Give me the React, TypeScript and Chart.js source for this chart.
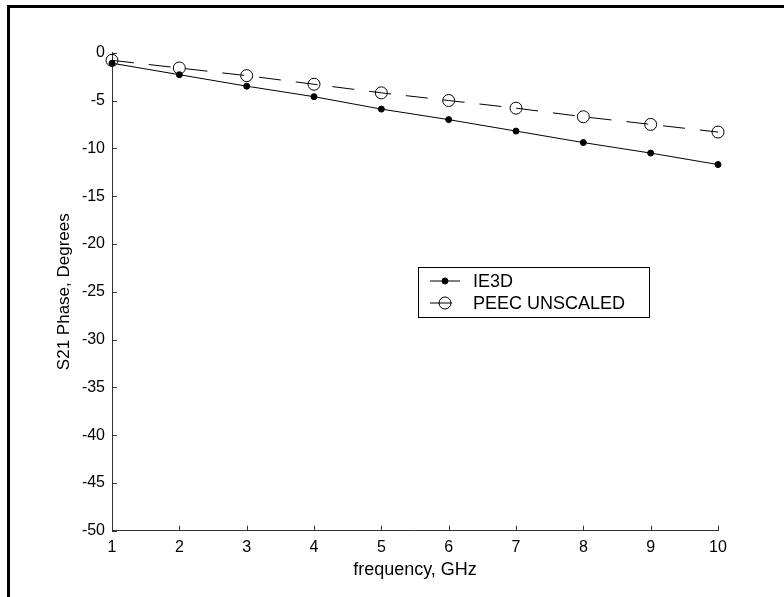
import React, { useEffect, useRef } from "react";
import { Chart, registerables } from "chart.js";

Chart.register(...registerables);

// Frequency sweep (GHz) and S21 phase (degrees) for the two solvers
const frequencies = [1, 2, 3, 4, 5, 6, 7, 8, 9, 10];
const ie3dPhase = [-1.1, -2.3, -3.5, -4.6, -5.9, -7.0, -8.2, -9.4, -10.5, -11.7];
const peecPhase = [-0.8, -1.6, -2.4, -3.3, -4.2, -5.0, -5.8, -6.7, -7.5, -8.3];
const seriesLabels = ["IE3D", "PEEC UNSCALED"];

const FONT = "'Liberation Sans', Arial, Helvetica, sans-serif";
const AXIS_COLOR = "#333";

// Inward tick marks on both axes, the framed legend and the page border
const decorations = {
  id: "decorations",
  beforeDraw(chart: any) {
    const ctx = chart.ctx;
    ctx.save();
    ctx.fillStyle = "#000";
    ctx.fillRect(7, 5, chart.width - 7, 3);
    ctx.fillRect(7, 5, 3, chart.height - 5);
    ctx.restore();
  },
  afterDatasetsDraw(chart: any) {
    const ctx = chart.ctx;
    const { left, bottom } = chart.chartArea;
    const xs = chart.scales.x;
    const ys = chart.scales.y;
    ctx.save();
    ctx.strokeStyle = AXIS_COLOR;
    ctx.lineWidth = 1;
    ctx.beginPath();
    xs.ticks.forEach((t: any) => {
      const px = Math.round(xs.getPixelForValue(t.value)) + 0.5;
      ctx.moveTo(px, bottom);
      ctx.lineTo(px, bottom - 5);
    });
    ys.ticks.forEach((t: any) => {
      const py = Math.round(ys.getPixelForValue(t.value)) + 0.5;
      ctx.moveTo(left, py);
      ctx.lineTo(left + 5, py);
    });
    ctx.stroke();

    // legend box
    const bx = 418.5, by = 267.5, bw = 231, bh = 50;
    ctx.fillStyle = "#fff";
    ctx.fillRect(bx, by, bw, bh);
    ctx.strokeStyle = "#000";
    ctx.lineWidth = 1;
    ctx.strokeRect(bx, by, bw, bh);

    const rows = [281, 303];
    chart.data.datasets.forEach((ds: any, i: number) => {
      const y = rows[i];
      ctx.save();
      ctx.strokeStyle = ds.borderColor;
      ctx.lineWidth = ds.borderWidth;
      ctx.setLineDash(ds.borderDash || []);
      ctx.beginPath();
      ctx.moveTo(430, y);
      ctx.lineTo(460, y);
      ctx.stroke();
      ctx.setLineDash([]);
      ctx.beginPath();
      ctx.arc(445, y, ds.pointRadius, 0, Math.PI * 2);
      if (ds.pointBackgroundColor !== "rgba(0,0,0,0)") {
        ctx.fillStyle = ds.pointBackgroundColor;
        ctx.fill();
      }
      ctx.strokeStyle = ds.pointBorderColor;
      ctx.lineWidth = ds.pointBorderWidth;
      ctx.stroke();
      ctx.restore();
      ctx.fillStyle = "#000";
      ctx.font = `18px ${FONT}`;
      ctx.textAlign = "left";
      ctx.textBaseline = "middle";
      ctx.fillText(ds.label, 473, y + 1);
    });
    ctx.restore();
  },
};

export default function App() {
  const canvasRef = useRef<HTMLCanvasElement | null>(null);

  useEffect(() => {
    const canvas = canvasRef.current;
    if (!canvas) return;
    const chart = new Chart(canvas, {
      type: "line",
      data: {
        datasets: [
          {
            label: seriesLabels[0],
            data: frequencies.map((f, i) => ({ x: f, y: ie3dPhase[i] })),
            borderColor: "#000",
            borderWidth: 1,
            pointRadius: 3,
            pointBackgroundColor: "#000",
            pointBorderColor: "#000",
            pointBorderWidth: 1,
            tension: 0,
            fill: false,
            clip: false,
          },
          {
            label: seriesLabels[1],
            data: frequencies.map((f, i) => ({ x: f, y: peecPhase[i] })),
            borderColor: "#000",
            borderWidth: 1,
            borderDash: [22, 15],
            pointRadius: 6,
            pointBackgroundColor: "rgba(0,0,0,0)",
            pointBorderColor: "#000",
            pointBorderWidth: 1,
            tension: 0,
            fill: false,
            clip: false,
          },
        ],
      },
      options: {
        animation: false,
        responsive: false,
        devicePixelRatio: 1,
        layout: { padding: { top: 52.7, right: 66, bottom: 0, left: 0 } },
        plugins: { legend: { display: false }, tooltip: { enabled: false } },
        scales: {
          x: {
            type: "linear",
            min: 1,
            max: 10,
            grid: { display: false, drawTicks: false },
            border: { display: true, color: AXIS_COLOR, width: 1 },
            ticks: {
              stepSize: 1,
              padding: 7,
              color: "#000",
              font: { family: FONT, size: 16 },
            },
            title: {
              display: true,
              text: "frequency, GHz",
              color: "#000",
              font: { family: FONT, size: 18 },
              padding: { top: 0, bottom: 16.2 },
            },
            afterFit(scale: any) {
              scale.height = 66.3;
            },
          },
          y: {
            type: "linear",
            min: -50,
            max: 0,
            grid: { display: false, drawTicks: false },
            border: { display: true, color: AXIS_COLOR, width: 1 },
            ticks: {
              stepSize: 5,
              padding: 7,
              color: "#000",
              font: { family: FONT, size: 16 },
            },
            title: {
              display: true,
              text: "S21 Phase, Degrees",
              color: "#000",
              font: { family: FONT, size: 17 },
              padding: { top: 53.8, bottom: 0 },
            },
            afterFit(scale: any) {
              scale.width = 112;
            },
          },
        },
      },
      plugins: [decorations],
    });
    return () => chart.destroy();
  }, []);

  return (
    <div style={{ position: "fixed", left: 0, top: 0, width: 784, height: 597, background: "#fff" }}>
      <canvas ref={canvasRef} width={784} height={597} style={{ display: "block" }} />
    </div>
  );
}
